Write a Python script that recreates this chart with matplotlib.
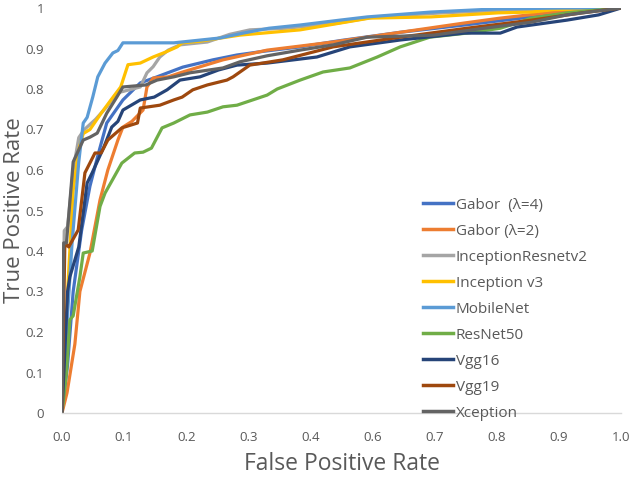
import matplotlib
matplotlib.use("Agg")
import matplotlib.pyplot as plt
import numpy as np

# ---------------- data ----------------
x_tick_labels = ['0.0', '0.1', '0.2', '0.3', '0.4', '0.6', '0.7', '0.8', '0.9', '1.0']
y_tick_labels = ['0', '0.1', '0.2', '0.3', '0.4', '0.5', '0.6', '0.7', '0.8', '0.9', '1']

series_names = ['Gabor  (λ=4)', 'Gabor (λ=2)', 'InceptionResnetv2', 'Inception v3',
                'MobileNet', 'ResNet50', 'Vgg16', 'Vgg19', 'Xception']

gabor4_fpr = [0, 0.01, 0.02, 0.035, 0.05, 0.065, 0.08, 0.109, 0.14, 0.17, 0.216, 0.27, 0.313,
              0.36, 0.426, 0.5, 0.605, 0.72, 0.84, 0.92, 1.0]
gabor4_tpr = [0, 0.12, 0.3, 0.45, 0.56, 0.64, 0.716, 0.773, 0.815, 0.83, 0.854, 0.872, 0.884,
              0.893, 0.904, 0.92, 0.94, 0.958, 0.978, 0.99, 1.0]

gabor2_fpr = [0, 0.009, 0.023, 0.032, 0.05, 0.068, 0.082, 0.1, 0.109, 0.125, 0.145, 0.152,
              0.163, 0.19, 0.216, 0.288, 0.367, 0.485, 0.605, 0.72, 0.784, 0.88, 1.0]
gabor2_tpr = [0, 0.05, 0.17, 0.30, 0.395, 0.526, 0.6, 0.674, 0.706, 0.72, 0.748, 0.805,
              0.827, 0.83, 0.842, 0.872, 0.896, 0.916, 0.94, 0.963, 0.975, 0.99, 1.0]

incres_fpr = [0, 0.004, 0.01, 0.02, 0.03, 0.04, 0.06, 0.08, 0.098, 0.14, 0.152, 0.163,
              0.175, 0.19, 0.211, 0.26, 0.3, 0.336, 0.4, 0.49, 0.56, 0.68, 0.8, 1.0]
incres_tpr = [0, 0.45, 0.46, 0.6, 0.68, 0.70, 0.725, 0.756, 0.79, 0.805, 0.84, 0.855,
              0.879, 0.896, 0.909, 0.916, 0.935, 0.946, 0.95, 0.962, 0.978, 0.988, 0.995, 1.0]

incv3_fpr = [0, 0.01, 0.02, 0.03, 0.038, 0.05, 0.07, 0.086, 0.105, 0.118, 0.14, 0.163, 0.185,
             0.206, 0.215, 0.247, 0.318, 0.426, 0.55, 0.66, 0.78, 0.84, 0.88, 1.0]
incv3_tpr = [0, 0.3, 0.55, 0.65, 0.69, 0.70, 0.74, 0.77, 0.805, 0.86, 0.864, 0.879, 0.891,
             0.904, 0.914, 0.918, 0.933, 0.946, 0.975, 0.978, 0.988, 0.99, 0.996, 1.0]

mobile_fpr = [0, 0.008, 0.018, 0.03, 0.038, 0.045, 0.055, 0.064, 0.077, 0.091, 0.1, 0.109,
              0.2, 0.283, 0.324, 0.37, 0.426, 0.497, 0.546, 0.66, 0.78, 0.9, 1.0]
mobile_tpr = [0, 0.2, 0.42, 0.62, 0.716, 0.73, 0.78, 0.83, 0.864, 0.889, 0.895, 0.914,
              0.914, 0.926, 0.938, 0.95, 0.958, 0.97, 0.978, 0.99, 0.998, 1.0, 1.0]

resnet_fpr = [0, 0.008, 0.014, 0.02, 0.032, 0.038, 0.054, 0.068, 0.077, 0.09, 0.107, 0.13,
              0.145, 0.16, 0.179, 0.2, 0.229, 0.26, 0.288, 0.313, 0.367, 0.385, 0.426,
              0.467, 0.515, 0.564, 0.605, 0.658, 0.724, 0.784, 0.814, 0.84, 0.903, 1.0]
resnet_tpr = [0, 0.1, 0.23, 0.24, 0.336, 0.395, 0.40, 0.51, 0.543, 0.575, 0.617, 0.642,
              0.644, 0.654, 0.704, 0.716, 0.736, 0.743, 0.756, 0.76, 0.785, 0.80, 0.822,
              0.842, 0.852, 0.879, 0.904, 0.928, 0.938, 0.95, 0.963, 0.975, 0.988, 1.0]

vgg16_fpr = [0, 0.01, 0.014, 0.03, 0.045, 0.054, 0.075, 0.089, 0.1, 0.109, 0.14, 0.165,
             0.188, 0.211, 0.247, 0.28, 0.313, 0.367, 0.456, 0.515, 0.605, 0.72, 0.784,
             0.814, 0.903, 0.96, 1.0]
vgg16_tpr = [0, 0.3, 0.336, 0.41, 0.568, 0.593, 0.657, 0.706, 0.72, 0.748, 0.773, 0.78,
             0.798, 0.822, 0.83, 0.847, 0.859, 0.864, 0.879, 0.904, 0.921, 0.938, 0.938,
             0.953, 0.97, 0.983, 1.0]

vgg19_fpr = [0, 0.005, 0.009, 0.012, 0.029, 0.041, 0.059, 0.07, 0.082, 0.107, 0.135, 0.14,
             0.175, 0.2, 0.215, 0.234, 0.26, 0.295, 0.306, 0.336, 0.395, 0.485, 0.605,
             0.724, 0.84, 0.93, 1.0]
vgg19_tpr = [0, 0.41, 0.415, 0.41, 0.452, 0.593, 0.642, 0.642, 0.674, 0.704, 0.716, 0.753,
             0.76, 0.773, 0.78, 0.798, 0.81, 0.822, 0.83, 0.859, 0.872, 0.904, 0.928,
             0.95, 0.97, 0.988, 1.0]

xcep_fpr = [0, 0.003, 0.008, 0.02, 0.038, 0.05, 0.063, 0.08, 0.098, 0.109, 0.15, 0.17,
            0.2, 0.229, 0.288, 0.318, 0.367, 0.426, 0.485, 0.546, 0.665, 0.755, 0.84,
            0.903, 1.0]
xcep_tpr = [0, 0.42, 0.42, 0.62, 0.674, 0.681, 0.691, 0.74, 0.78, 0.805, 0.81, 0.822,
            0.83, 0.84, 0.852, 0.867, 0.882, 0.896, 0.909, 0.928, 0.933, 0.95, 0.965,
            0.983, 1.0]

series = [(gabor4_fpr, gabor4_tpr), (gabor2_fpr, gabor2_tpr), (incres_fpr, incres_tpr),
          (incv3_fpr, incv3_tpr), (mobile_fpr, mobile_tpr), (resnet_fpr, resnet_tpr),
          (vgg16_fpr, vgg16_tpr), (vgg19_fpr, vgg19_tpr), (xcep_fpr, xcep_tpr)]

colors = ['#4472C4', '#ED7D31', '#A5A5A5', '#FFC000', '#5B9BD5',
          '#70AD47', '#264478', '#9E480E', '#636363']

# ---------------- plot ----------------
plt.rcParams['font.family'] = ['Open Sans', 'DejaVu Sans']
fig = plt.figure(figsize=(6.29, 4.80), dpi=100)
ax = fig.add_axes([62 / 629, 67 / 480, 559 / 629, 405 / 480])

for (fx, ty), name, c in zip(series, series_names, colors):
    ax.plot(fx, ty, color=c, lw=2.3, label=name, solid_joinstyle='round')

ax.set_xlim(0, 1)
ax.set_ylim(0, 1)
ax.set_xticks(np.linspace(0, 1, len(x_tick_labels)))
ax.set_xticklabels(x_tick_labels)
ax.set_yticks(np.linspace(0, 1, len(y_tick_labels)))
ax.set_yticklabels(y_tick_labels)
ax.tick_params(length=0, labelsize=9.5, colors='#595959')
ax.tick_params(axis='x', pad=13)
ax.tick_params(axis='y', pad=13)

for s in ['top', 'right', 'left']:
    ax.spines[s].set_visible(False)
ax.spines['bottom'].set_color('#D9D9D9')
ax.spines['bottom'].set_linewidth(1)

ax.set_xlabel('False Positive Rate', fontsize=16.5, color='#595959', labelpad=6)
ax.set_ylabel('True Positive Rate', fontsize=16, color='#595959')
ax.yaxis.set_label_coords((25 - 62) / 559, 0.5)

leg = fig.legend(loc='upper left', bbox_to_anchor=(409 / 629, 1 - 184 / 480),
                 frameon=False, fontsize=11, handlelength=2.0, handletextpad=0.15,
                 labelspacing=0.72, labelcolor='#595959')
for h in leg.get_lines():
    h.set_linewidth(2.5)

fig.savefig('out.png', dpi=100)
